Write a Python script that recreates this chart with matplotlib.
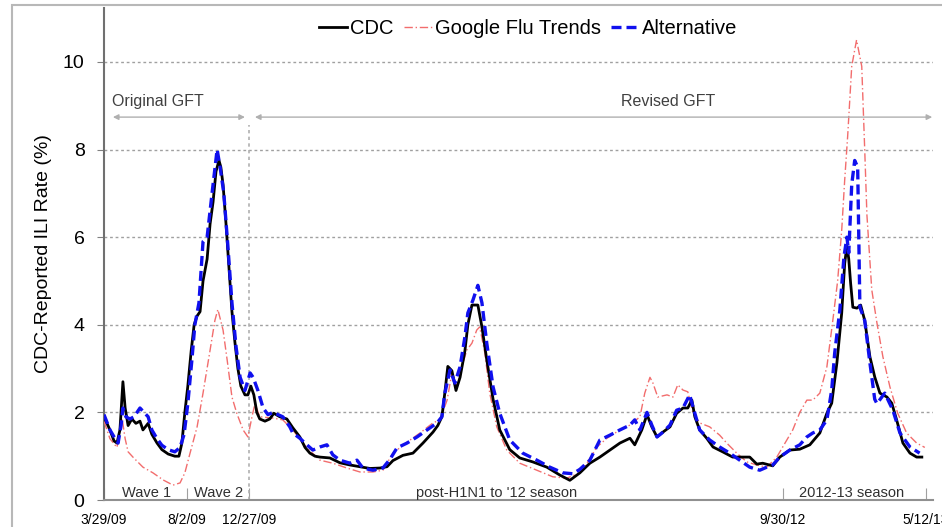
import matplotlib
matplotlib.use("Agg")
import matplotlib.pyplot as plt
from matplotlib.patches import Rectangle

plt.rcParams['font.family'] = ['Liberation Sans', 'DejaVu Sans']

# x = week position on the chart's time axis (0 = 3/29/09)
cdc_x = [0, 1.6, 2.7, 3.5, 4.3, 5.1, 5.7, 6.5, 7.5, 8.6, 9.7, 10.5, 11.9, 12.9, 14.3, 15.6, 17.3, 19.1, 20.2,
         21.0, 21.8, 22.6, 23.5, 24.3, 25.1, 25.9, 26.7, 27.8, 28.6, 29.4, 30.2, 31.0, 31.5, 32.1, 32.9, 33.7,
         34.5, 35.3, 36.1, 36.9, 38.0, 38.8, 39.6, 40.4, 41.2, 42.0, 43.4, 44.7, 45.8, 47.4, 49.3, 50.9, 52.8,
         54.2, 55.5, 56.9, 58.2, 60.9, 63.6, 66.3, 69.0, 71.7, 74.4, 76.3, 77.9, 80.6, 83.3, 86.0, 88.7, 90.0,
         91.1, 91.9, 92.7, 93.8, 94.9, 96.0, 97.3, 98.1, 99.2, 100.8, 101.9, 103.2, 104.9, 106.7, 109.4, 112.1,
         115.6, 119.4, 122.9, 125.6, 128.3, 131.0, 133.7, 136.4, 139.1, 141.8, 143.1, 145.0, 146.4, 147.7,
         149.1, 150.7, 152.6, 154.4, 156.1, 157.4, 158.5, 159.3, 160.6, 162.5, 164.2, 166.8, 169.5, 174.1,
         176.0, 177.6, 180.3, 182.2, 184.9, 187.6, 190.3, 193.0, 194.9, 196.2, 197.6, 198.9, 199.7, 200.3,
         200.8, 201.3, 201.9, 203.0, 204.0, 205.1, 206.5, 207.8, 209.2, 211.1, 212.4, 213.7, 215.4, 217.3,
         219.1, 220.5]
cdc_y = [1.9, 1.6, 1.35, 1.3, 1.6, 2.7, 2.1, 1.7, 1.85, 1.75, 1.8, 1.6, 1.75, 1.5, 1.3, 1.15, 1.05, 1.0, 1.0,
         1.3, 2.0, 2.6, 3.4, 4.0, 4.2, 4.3, 5.0, 5.5, 6.3, 6.8, 7.5, 7.75, 7.6, 7.2, 6.3, 5.3,
         4.3, 3.6, 3.0, 2.6, 2.4, 2.4, 2.6, 2.4, 2.0, 1.85, 1.8, 1.85, 1.98, 1.9, 1.85, 1.65, 1.44,
         1.2, 1.07, 1.0, 0.98, 0.96, 0.85, 0.8, 0.76, 0.72, 0.73, 0.76, 0.9, 1.02, 1.07, 1.3, 1.55, 1.7,
         1.9, 2.45, 3.05, 2.95, 2.5, 2.8, 3.4, 4.0, 4.45, 4.45, 3.95, 3.2, 2.3, 1.6, 1.15, 0.96,
         0.87, 0.75, 0.57, 0.45, 0.62, 0.84, 0.98, 1.14, 1.3, 1.41, 1.26, 1.6, 1.95, 1.67,
         1.44, 1.55, 1.67, 1.98, 2.1, 2.1, 2.28, 1.9, 1.6, 1.41, 1.21, 1.1, 0.98, 0.98,
         0.82, 0.84, 0.78, 0.98, 1.14, 1.16, 1.26, 1.53, 1.98, 2.21, 3.13, 4.27, 5.4, 5.8,
         5.5, 4.95, 4.4, 4.38, 4.45, 4.1, 3.27, 2.81, 2.44, 2.35, 2.21, 1.83, 1.3, 1.07,
         0.98, 0.98]

gft_x = [0, 1.6, 3.5, 4.9, 5.7, 6.5, 7.8, 10.5, 13.2, 15.9, 18.6, 20.5, 21.8, 23.2, 25.1, 26.7, 28.6, 29.9,
         30.7, 32.1, 33.2, 34.5, 35.8, 37.5, 38.8, 39.9, 40.7, 42.0, 45.6, 48.2, 50.9, 54.7, 58.2, 61.7, 65.5,
         69.0, 72.5, 75.2, 77.9, 81.7, 85.2, 88.7, 90.6, 92.5, 93.8, 95.1, 96.5, 97.8, 99.2, 100.5, 101.3,
         102.7, 104.0, 105.9, 108.6, 112.1, 116.7, 121.0, 124.8, 128.3, 130.2, 132.9, 135.6, 139.1, 141.8,
         144.5, 145.8, 147.2, 148.0, 149.3, 151.8, 153.4, 154.7, 156.1, 157.4, 158.8, 160.6, 163.3, 166.0,
         167.9, 170.6, 173.3, 176.0, 178.7, 181.4, 184.1, 185.7, 187.6, 189.5, 191.1, 193.0, 194.9, 196.5,
         197.8, 198.9, 199.7, 200.5, 201.6, 202.9, 204.3, 205.1, 205.7, 207.0, 208.4, 210.0, 211.9, 214.0,
         216.4, 219.1, 221.3]
gft_y = [1.8, 1.4, 1.2, 1.85, 1.4, 1.1, 0.98, 0.75, 0.62, 0.46, 0.34, 0.39, 0.62, 1.07, 1.67, 2.44, 3.42, 4.1,
         4.35, 3.88, 3.2, 2.35, 1.98, 1.6, 1.44, 1.9, 2.2, 1.9, 1.87, 1.83, 1.6, 1.19, 0.91, 0.84, 0.73,
         0.64, 0.64, 0.68, 1.07, 1.32, 1.53, 1.76, 1.83, 2.28, 2.9, 2.58, 3.04, 3.42, 3.58, 3.88, 3.95,
         3.35, 2.44, 1.67, 1.14, 0.84, 0.68, 0.53, 0.5, 0.62, 0.84, 1.21, 1.41, 1.6, 1.71,
         1.9, 2.44, 2.8, 2.67, 2.35, 2.4, 2.35, 2.63, 2.51, 2.47, 1.98, 1.76, 1.67, 1.48,
         1.3, 1.07, 0.87, 0.8, 0.75, 0.98, 1.37, 1.6, 2.0, 2.28, 2.28, 2.44, 3.04, 4.1,
         5.0, 6.16, 7.3, 8.3, 9.9, 10.5, 9.9, 8.0, 6.5, 4.8, 4.04, 3.27, 2.58, 1.98,
         1.53, 1.3, 1.2]

alt_x = [0, 1.6, 3.0, 3.8, 4.6, 5.1, 5.9, 7.0, 8.1, 9.7, 10.8, 11.9, 12.9, 14.3, 15.6, 17.3, 19.1, 20.5,
         21.6, 22.6, 23.7, 24.5, 25.6, 26.7, 27.8, 28.6, 29.4, 30.5, 31.3, 32.3, 33.4, 34.5, 35.6, 36.7, 38.0,
         39.4, 40.2, 41.5, 42.9, 44.2, 45.6, 48.2, 50.1, 50.9, 52.8, 54.7, 56.3, 58.2, 60.1, 61.7, 63.6, 66.3,
         68.2, 69.8, 72.5, 75.2, 77.1, 79.0, 81.7, 84.4, 87.1, 89.8, 91.1, 91.9, 93.3, 94.6, 96.0, 97.3, 98.1,
         99.5, 100.8, 101.9, 103.2, 104.9, 106.7, 109.4, 112.9, 116.7, 120.2, 123.7, 126.4, 128.3, 131.0,
         133.7, 136.4, 139.1, 141.8, 143.1, 144.5, 146.4, 147.7, 149.1, 150.7, 152.6, 154.4, 156.1, 157.9,
         159.3, 160.6, 163.3, 166.0, 168.7, 171.4, 174.1, 176.8, 178.7, 180.3, 182.2, 184.9, 187.6, 189.5,
         191.1, 193.0, 194.9, 196.2, 197.0, 198.4, 199.5, 200.3, 200.8, 201.6, 202.4, 203.2, 203.8, 205.1,
         206.5, 207.8, 208.4, 210.5, 212.7, 214.6, 217.3, 219.9]
alt_y = [1.95, 1.6, 1.4, 1.3, 1.7, 2.1, 1.9, 1.85, 1.9, 2.1, 2.0, 1.9, 1.6, 1.4, 1.25, 1.15, 1.1, 1.2,
         1.5, 2.2, 3.2, 4.0, 4.5, 5.9, 6.0, 6.6, 7.2, 8.0, 7.6, 7.0, 5.8, 4.5, 3.5, 2.8, 2.5,
         2.9, 2.8, 2.5, 2.1, 1.95, 2.0, 1.9, 1.67, 1.53, 1.41, 1.26, 1.14, 1.21, 1.26, 1.03, 0.91, 0.84,
         0.91, 0.73, 0.68, 0.73, 0.93, 1.19, 1.3, 1.44, 1.6, 1.76, 1.9, 2.44, 2.97, 2.67, 3.04, 3.72, 4.27,
         4.57, 4.9, 4.5, 3.58, 2.58, 1.98, 1.37, 1.07, 0.91, 0.75, 0.62, 0.6, 0.7, 0.91,
         1.37, 1.48, 1.6, 1.71, 1.83, 1.6, 2.0, 1.71, 1.44, 1.55, 1.71, 2.05, 2.1, 2.4,
         1.98, 1.6, 1.37, 1.21, 1.07, 0.91, 0.75, 0.68, 0.75, 0.8, 0.98, 1.14, 1.26, 1.44,
         1.53, 1.6, 1.83, 2.51, 3.35, 4.34, 5.55, 6.0, 5.64, 7.2, 7.75, 7.6, 4.4, 4.1,
         3.13, 2.3, 2.2, 2.44, 2.05, 1.53, 1.21, 1.07]

tick_pos = [0, 22.4, 39.1, 183.0, 221.6]
tick_labels = ["3/29/09", "8/2/09", "12/27/09", "9/30/12", "5/12/13"]
season_labels = ["Wave 1", "Wave 2", "post-H1N1 to '12 season", "2012-13 season"]
season_pos = [11.6, 31.0, 105.9, 201.6]

fig = plt.figure(figsize=(9.42, 5.27), dpi=100)
ax = fig.add_axes([0.1104, 0.0512, 0.88, 0.9336])

# outer frame of the chart
fig.patches.append(Rectangle((12 / 942, -0.1), 1.2, 0.1 + (527 - 5) / 527, transform=fig.transFigure,
                             fill=False, edgecolor="#b8b8b8", lw=1.5))

ax.plot(cdc_x, cdc_y, color="black", lw=2.0, label="CDC", zorder=4)
ax.plot(gft_x, gft_y, color="#f26d6d", lw=1.0, ls=(0, (6, 2, 1, 2)), label="Google Flu Trends", zorder=3)
ax.plot(alt_x, alt_y, color="#1010ee", lw=2.4, ls=(0, (3, 1.5)), label="Alternative", zorder=5)

ax.set_xlim(0, 223.5)
ax.set_ylim(0, 11.23)
ax.set_yticks([0, 2, 4, 6, 8, 10])
ax.tick_params(axis="y", labelsize=14, length=5, color="#808080", pad=9)
ax.set_xticks(tick_pos)
ax.set_xticklabels(tick_labels, fontsize=10)
ax.tick_params(axis="x", direction="in", length=9, color="#a0a0a0", pad=9)
ax.grid(axis="y", ls=(0, (2, 2)), color="#a0a0a0", lw=1.0)
ax.set_ylabel("CDC-Reported ILI Rate (%)", fontsize=14, labelpad=8)

for s in ["top", "right"]:
    ax.spines[s].set_visible(False)
ax.spines["left"].set_color("#707070")
ax.spines["left"].set_linewidth(1.5)
ax.spines["bottom"].set_color("#909090")
ax.spines["bottom"].set_linewidth(1.5)

# GFT version arrows
ax.vlines(39.1, 0, 8.55, colors="#b0b0b0", linestyles=(0, (2, 2)), lw=1.2)
arrow = dict(arrowstyle="<|-|>", color="#b0b0b0", lw=1.0, mutation_scale=8, shrinkA=0, shrinkB=0)
ax.annotate("", xy=(2.4, 8.74), xytext=(38.0, 8.74), arrowprops=arrow)
ax.annotate("", xy=(40.7, 8.74), xytext=(223.3, 8.74), arrowprops=arrow)
ax.text(2.2, 9.1, "Original GFT", fontsize=11.5, color="#404040", ha="left", va="center")
ax.text(152, 9.1, "Revised GFT", fontsize=11.5, color="#404040", ha="center", va="center")

for lab, xp in zip(season_labels, season_pos):
    ax.text(xp, 0.16, lab, fontsize=10.5, color="#303030", ha="center", va="center")

leg = ax.legend(loc="center", bbox_to_anchor=(0.512, 0.959), ncol=3, frameon=False, fontsize=14.5,
                handlelength=1.4, handletextpad=0.15, columnspacing=0.5)

fig.savefig("out.png", dpi=100)
